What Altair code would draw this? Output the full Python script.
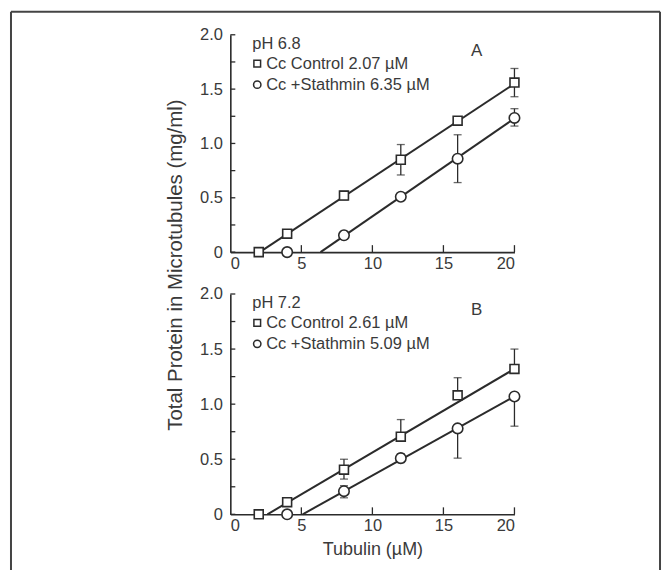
import altair as alt
import pandas as pd

# ---------------- data ----------------
ctrl_x = [2, 4, 8, 12, 16, 20]
stat_x = [4, 8, 12, 16, 20]

# Panel A (pH 6.8)
a_ctrl_y = [0.0, 0.17, 0.52, 0.85, 1.21, 1.56]
a_ctrl_lo = [0.0, 0.17, 0.48, 0.71, 1.21, 1.43]
a_ctrl_hi = [0.0, 0.17, 0.56, 0.99, 1.21, 1.69]
a_stat_y = [0.0, 0.155, 0.51, 0.86, 1.235]
a_stat_lo = [0.0, 0.12, 0.48, 0.64, 1.16]
a_stat_hi = [0.0, 0.19, 0.54, 1.08, 1.32]
a_line_start = [2.07, 6.35]
a_line_end = [1.55, 1.23]

# Panel B (pH 7.2)
b_ctrl_y = [0.0, 0.11, 0.405, 0.705, 1.08, 1.32]
b_ctrl_lo = [0.0, 0.11, 0.32, 0.705, 1.08, 1.32]
b_ctrl_hi = [0.0, 0.11, 0.50, 0.86, 1.24, 1.50]
b_stat_y = [0.0, 0.21, 0.51, 0.78, 1.07]
b_stat_lo = [0.0, 0.15, 0.47, 0.51, 0.80]
b_stat_hi = [0.0, 0.26, 0.55, 0.78, 1.07]
b_line_start = [2.61, 5.09]
b_line_end = [1.32, 1.07]

series_names = ["ctrl", "stat"]
a_legend = ["pH 6.8", "Cc Control 2.07 \u00b5M", "Cc +Stathmin 6.35 \u00b5M", "A"]
b_legend = ["pH 7.2", "Cc Control 2.61 \u00b5M", "Cc +Stathmin 5.09 \u00b5M", "B"]

y_ticks = [0, 0.25, 0.5, 0.75, 1.0, 1.25, 1.5, 1.75, 2.0]
x_ticks = [5, 10, 15, 20]
x_labels = [0, 5, 10, 15, 20]
y_labels = [0, 0.5, 1.0, 1.5, 2.0]

y_title = "Total Protein in Microtubules (mg/ml)"
x_title = "Tubulin (\u00b5M)"

INK = "#2b2b2b"
TXT = "#3a3a3a"
FONT = "Liberation Sans"
W = 285
FS = 16.5


def panel(cy, clo, chi, sy, slo, shi, lstart, lend, legend, height, xtitle, extras):
    pts = pd.DataFrame({
        "x": ctrl_x + stat_x,
        "y": cy + sy,
        "lo": clo + slo,
        "hi": chi + shi,
        "s": ["ctrl"] * len(ctrl_x) + ["stat"] * len(stat_x),
    })
    caps = []
    for _, r in pts.iterrows():
        if r["lo"] < r["y"] - 1e-9:
            caps.append({"x": r["x"], "y": r["lo"]})
        if r["hi"] > r["y"] + 1e-9:
            caps.append({"x": r["x"], "y": r["hi"]})
    caps = pd.DataFrame(caps)
    lines = pd.DataFrame({
        "x": lstart + [20, 20],
        "y": [0, 0] + lend,
        "s": series_names + series_names,
    })

    xenc = alt.X("x:Q", scale=alt.Scale(domain=[0, 20], nice=False, zero=False),
                 axis=alt.Axis(values=x_labels, title=xtitle, ticks=False, grid=False,
                               labelPadding=3, titlePadding=7,
                               labelFont=FONT, labelFontSize=FS, labelColor=TXT,
                               titleFont=FONT, titleFontSize=18, titleColor=TXT,
                               titleFontWeight="normal",
                               domainColor=INK, domainWidth=1.6))
    yenc = alt.Y("y:Q", scale=alt.Scale(domain=[0, 2], nice=False),
                 axis=alt.Axis(values=y_labels, title=None, ticks=False, grid=False,
                               labelPadding=8,
                               labelFont=FONT, labelFontSize=FS, labelColor=TXT,
                               domainColor=INK, domainWidth=1.6,
                               labelExpr="datum.value == 0 ? '0' : format(datum.value, '.1f')"))

    line_layer = alt.Chart(lines).mark_line(color=INK, strokeWidth=2).encode(
        x=xenc, y=yenc, detail="s:N")
    err = alt.Chart(pts).mark_rule(color=INK, strokeWidth=1.3).encode(
        x="x:Q", y="lo:Q", y2="hi:Q")
    cap_layer = alt.Chart(caps).mark_tick(color=INK, thickness=1.3, size=8,
                                          orient="horizontal").encode(x="x:Q", y="y:Q")
    sq = alt.Chart(pts[pts.s == "ctrl"]).mark_point(
        shape="square", size=80, filled=True, fill="white", stroke=INK, strokeWidth=1.6, opacity=1
    ).encode(x="x:Q", y="y:Q")
    ci = alt.Chart(pts[pts.s == "stat"]).mark_point(
        shape="circle", size=110, filled=True, fill="white", stroke=INK, strokeWidth=1.6, opacity=1
    ).encode(x="x:Q", y="y:Q")

    yt = alt.Chart(pd.DataFrame({"y": y_ticks})).mark_rule(color=INK, strokeWidth=1.3).encode(
        y="y:Q", x=alt.value(0), x2=alt.value(5))
    xt = alt.Chart(pd.DataFrame({"x": x_ticks})).mark_rule(color=INK, strokeWidth=1.3).encode(
        x="x:Q", y=alt.value(height), y2=alt.value(height - 7))

    one = pd.DataFrame({"k": [0]})
    t_ph = alt.Chart(one).mark_text(text=legend[0], align="left", baseline="middle",
                                    fontSize=FS, font=FONT, color=TXT).encode(
        x=alt.value(22), y=alt.value(9))
    s_leg = alt.Chart(one).mark_point(shape="square", size=45, filled=True, fill="white",
                                      stroke=INK, strokeWidth=1.5, opacity=1).encode(
        x=alt.value(27), y=alt.value(29))
    c_leg = alt.Chart(one).mark_point(shape="circle", size=55, filled=True, fill="white",
                                      stroke=INK, strokeWidth=1.5, opacity=1).encode(
        x=alt.value(27), y=alt.value(50))
    t1 = alt.Chart(one).mark_text(text=legend[1], align="left", baseline="middle",
                                  fontSize=FS, font=FONT, color=TXT).encode(
        x=alt.value(36), y=alt.value(29))
    t2 = alt.Chart(one).mark_text(text=legend[2], align="left", baseline="middle",
                                  fontSize=FS, font=FONT, color=TXT).encode(
        x=alt.value(36), y=alt.value(50))
    letter = alt.Chart(one).mark_text(text=legend[3], align="center", baseline="middle",
                                      fontSize=17, font=FONT, color=TXT).encode(
        x=alt.value(247), y=alt.value(16))

    layers = [line_layer, err, cap_layer, sq, ci, yt, xt, t_ph, s_leg, c_leg, t1, t2, letter] + extras
    return alt.layer(*layers).properties(width=W, height=height)


one = pd.DataFrame({"k": [0]})
frame_col = "#444444"
frame_left = alt.Chart(one).mark_rule(color=frame_col, strokeWidth=2).encode(
    x=alt.value(-220), y=alt.value(-23), y2=alt.value(540))
frame_top = alt.Chart(one).mark_rule(color=frame_col, strokeWidth=2).encode(
    x=alt.value(-220), x2=alt.value(431), y=alt.value(-23))
frame_right = alt.Chart(one).mark_rule(color=frame_col, strokeWidth=2).encode(
    x=alt.value(431), y=alt.value(-23), y2=alt.value(540))
ytitle = alt.Chart(one).mark_text(text=y_title, angle=270, align="center", baseline="middle",
                                  fontSize=20.5, font=FONT, color=TXT).encode(
    x=alt.value(-54), y=alt.value(231))

top = panel(a_ctrl_y, a_ctrl_lo, a_ctrl_hi, a_stat_y, a_stat_lo, a_stat_hi,
            a_line_start, a_line_end, a_legend, 218, None,
            [frame_left, frame_top, frame_right, ytitle])
bottom = panel(b_ctrl_y, b_ctrl_lo, b_ctrl_hi, b_stat_y, b_stat_lo, b_stat_hi,
               b_line_start, b_line_end, b_legend, 221, x_title, [])

chart = alt.vconcat(top, bottom, spacing=42, bounds="flush").properties(
    padding={"left": 2, "top": 2, "right": 2, "bottom": 2},
    background="white"
).configure_view(stroke=None)

chart.save("out.html", embed_options={"renderer": "svg", "actions": False})
